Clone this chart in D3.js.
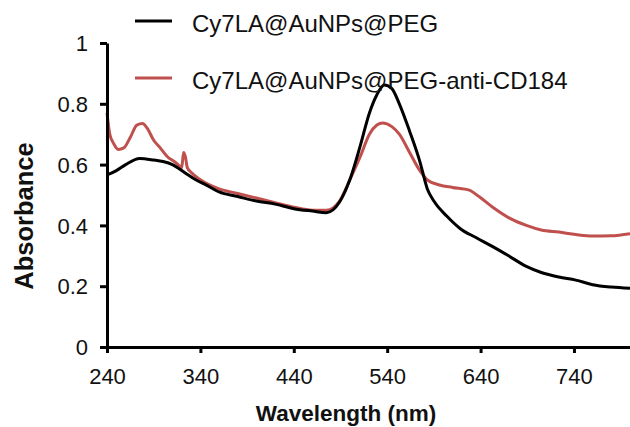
<!DOCTYPE html>
<html>
<head>
<meta charset="utf-8">
<script src="https://cdn.jsdelivr.net/npm/d3@7"></script>
<style>
  body { margin: 0; background: #fff; }
  svg text { font-family: "Liberation Sans", Arial, sans-serif; fill: #111; }
</style>
</head>
<body>
<svg width="630" height="427"></svg>
<script>
var svg = d3.select("svg"),
    width = +svg.attr("width"),
    height = +svg.attr("height");

// wavelength (nm) / absorbance
var pegWl  = [240, 250, 260, 275, 290, 300, 310, 318, 325, 335, 345, 360, 380, 400, 420, 440, 460, 475, 489, 500, 511, 521, 529, 537, 545, 553, 564, 575, 583, 590, 604, 618, 635, 653, 670, 689, 705, 724, 742, 760, 780, 800];
var pegAbs = [0.566, 0.58, 0.60, 0.62, 0.615, 0.61, 0.60, 0.585, 0.57, 0.55, 0.535, 0.51, 0.495, 0.48, 0.47, 0.455, 0.447, 0.442, 0.477, 0.55, 0.66, 0.77, 0.83, 0.862, 0.85, 0.80, 0.71, 0.61, 0.52, 0.48, 0.43, 0.39, 0.36, 0.33, 0.30, 0.265, 0.245, 0.23, 0.22, 0.205, 0.197, 0.193];

var abWl  = [240, 243, 247, 252, 258, 265, 272, 278, 283, 290, 297, 305, 312, 318, 320, 322, 324, 326, 330, 340, 360, 380, 400, 420, 440, 460, 475, 489, 500, 511, 521, 529, 535, 545, 553, 564, 575, 583, 596, 610, 628, 636, 653, 671, 689, 705, 724, 742, 760, 780, 800];
var abAbs = [0.77, 0.70, 0.67, 0.65, 0.655, 0.69, 0.73, 0.735, 0.72, 0.68, 0.655, 0.625, 0.61, 0.595, 0.59, 0.64, 0.625, 0.59, 0.575, 0.55, 0.52, 0.505, 0.49, 0.475, 0.46, 0.45, 0.45, 0.48, 0.55, 0.625, 0.70, 0.73, 0.737, 0.725, 0.70, 0.64, 0.58, 0.55, 0.533, 0.525, 0.516, 0.50, 0.46, 0.424, 0.40, 0.385, 0.378, 0.37, 0.365, 0.366, 0.373];

var seriesNames = ["Cy7LA@AuNPs@PEG", "Cy7LA@AuNPs@PEG-anti-CD184"];
var seriesColors = ["#000000", "#c0504d"];
var xTicks = [240, 340, 440, 540, 640, 740];
var yTicks = [0, 0.2, 0.4, 0.6, 0.8, 1];

var x = d3.scaleLinear().domain([240, 800]).range([107, 630]);
var y = d3.scaleLinear().domain([0, 1]).range([347, 43]);

var series = [
  {name: seriesNames[0], color: seriesColors[0], pts: pegWl.map(function(d, i) { return [d, pegAbs[i]]; })},
  {name: seriesNames[1], color: seriesColors[1], pts: abWl.map(function(d, i) { return [d, abAbs[i]]; })}
];

var line = d3.line()
    .x(function(d) { return x(d[0]); })
    .y(function(d) { return y(d[1]); })
    .curve(d3.curveMonotoneX);

// red first so black sits on top like the original
svg.append("g")
  .selectAll("path")
  .data(series.slice().reverse())
  .enter().append("path")
    .attr("d", function(d) { return line(d.pts); })
    .attr("fill", "none")
    .attr("stroke", function(d) { return d.color; })
    .attr("stroke-width", 3)
    .attr("stroke-linejoin", "round");

var xAxis = svg.append("g")
    .attr("transform", "translate(0," + y(0) + ")")
    .call(d3.axisBottom(x).tickValues(xTicks).tickSize(6).tickSizeOuter(0).tickPadding(15));

var yAxis = svg.append("g")
    .attr("transform", "translate(" + x(240) + ",0)")
    .call(d3.axisLeft(y).tickValues(yTicks).tickSize(7).tickSizeOuter(0).tickPadding(12)
      .tickFormat(function(d) { return d3.format("")(d); }));

[xAxis, yAxis].forEach(function(a) {
  a.select(".domain").attr("stroke", "#000").attr("stroke-width", 3);
  a.selectAll(".tick line").attr("stroke", "#000").attr("stroke-width", 3);
  a.selectAll(".tick text").style("font-size", "22px").attr("fill", "#111");
});
yAxis.selectAll(".tick text").attr("dy", "0.35em");

svg.append("text")
    .attr("x", 346)
    .attr("y", 421)
    .attr("text-anchor", "middle")
    .style("font-size", "22.5px")
    .style("font-weight", "bold")
    .text("Wavelength (nm)");

svg.append("text")
    .attr("transform", "translate(33,216) rotate(-90)")
    .attr("text-anchor", "middle")
    .style("font-size", "25.5px")
    .style("font-weight", "bold")
    .text("Absorbance");

var legend = svg.append("g")
  .selectAll("g")
  .data(series)
  .enter().append("g")
    .attr("transform", function(d, i) { return "translate(135," + (21 + i * 57) + ")"; });

legend.append("line")
    .attr("x1", 0).attr("x2", 37)
    .attr("stroke", function(d) { return d.color; })
    .attr("stroke-width", 3);

legend.append("text")
    .attr("x", 57)
    .attr("y", 11)
    .style("font-size", "24px")
    .text(function(d) { return d.name; });
</script>
</body>
</html>
